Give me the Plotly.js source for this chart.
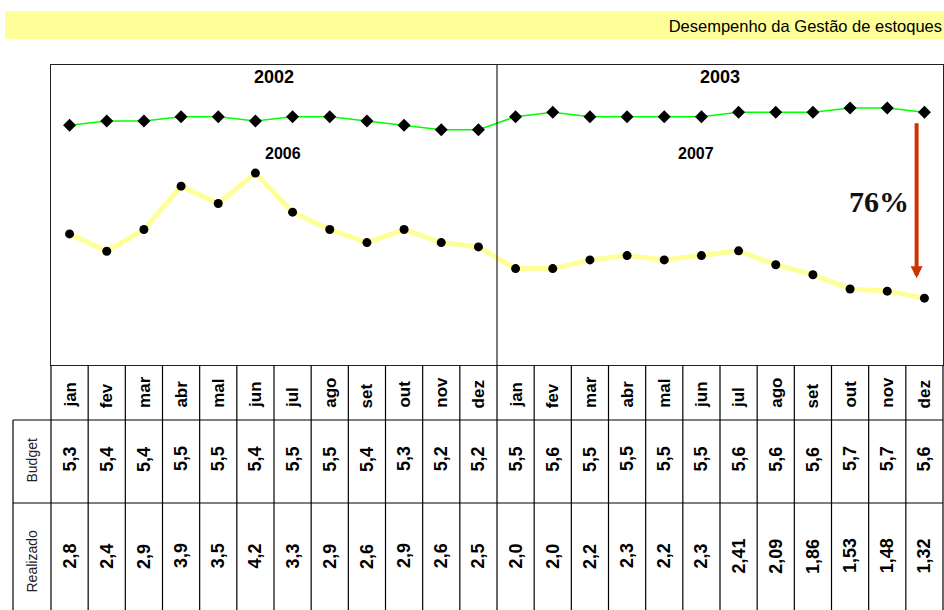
<!DOCTYPE html>
<html>
<head>
<meta charset="utf-8">
<script src="https://cdn.plot.ly/plotly-3.0.1.min.js"></script>
<style>html,body{margin:0;padding:0;background:#fff;}#chart{width:944px;height:610px;}</style>
</head>
<body>
<div id="chart"></div>
<script>
// ---- data ----
const monthNames = ['jan','fev','mar','abr','mal','jun','jul','ago','set','out','nov','dez'];
const months = monthNames.concat(monthNames);
const budget = [5.3,5.4,5.4,5.5,5.5,5.4,5.5,5.5,5.4,5.3,5.2,5.2, 5.5,5.6,5.5,5.5,5.5,5.5,5.6,5.6,5.6,5.7,5.7,5.6];
const realizado = [2.8,2.4,2.9,3.9,3.5,4.2,3.3,2.9,2.6,2.9,2.6,2.5, 2.0,2.0,2.2,2.3,2.2,2.3,2.41,2.09,1.86,1.53,1.48,1.32];
const years = ['2002','2003'];
const innerYears = ['2006','2007'];
const rowLabels = ['Budget','Realizado'];
const reductionLabel = '76%';
const headerTitle = 'Desempenho da Gestão de estoques';

// ---- helpers ----
const idx = months.map((m,i)=>i);
const fmt = v => (Number.isInteger(Math.round(v*100)/10) ? v.toFixed(1) : v.toFixed(2)).replace('.', ',');
const FONT = 'Liberation Sans, Arial, sans-serif';

const W = 944, H = 610, L = 51, R = 1, T = 65, B = 245;
const PW = W - L - R, PH = H - T - B;
const px = x => (x - L) / PW;        // pixel -> paper x
const py = y => (H - B - y) / PH;    // pixel -> paper y

const traces = [
  {x: idx, y: realizado, type:'scatter', mode:'lines+markers',
   line:{color:'#ffff99', width:5}, marker:{color:'#000', size:9, symbol:'circle'},
   hoverinfo:'skip', showlegend:false},
  {x: idx, y: budget, type:'scatter', mode:'lines+markers',
   line:{color:'#00ff00', width:1.5}, marker:{color:'#000', size:10, symbol:'diamond'},
   hoverinfo:'skip', showlegend:false}
];

const shapes = [];
// header band
shapes.push({type:'rect', xref:'paper', yref:'paper', x0:px(5), x1:px(944), y0:py(39), y1:py(11),
  fillcolor:'#ffff99', line:{width:0}, layer:'below'});
// divider between years inside plot
shapes.push({type:'line', xref:'paper', yref:'paper', x0:0.5, x1:0.5, y0:0, y1:1, line:{color:'#222', width:1.2}});
// table vertical lines
const n = months.length;
for (let k = 0; k <= n; k++) {
  shapes.push({type:'line', xref:'paper', yref:'paper', x0:k/n, x1:k/n, y0:0, y1:py(620),
    line:{color:'#000', width:1.2}});
}
// table horizontal lines
[420, 503].forEach(yy => shapes.push({type:'line', xref:'paper', yref:'paper', x0:px(13), x1:1, y0:py(yy), y1:py(yy),
  line:{color:'#000', width:1.2}}));
// label column left line
shapes.push({type:'line', xref:'paper', yref:'paper', x0:px(13), x1:px(13), y0:py(420), y1:py(620),
  line:{color:'#000', width:1.2}});

const C = {xanchor:'center', yanchor:'middle', showarrow:false};
const ann = [];
// year headers
years.forEach((y,i) => ann.push(Object.assign({xref:'paper', yref:'paper', x:0.25 + 0.5*i, y:py(77), text:y,
  font:{family:FONT, size:18, color:'#000', weight:'bold'}}, C)));
// inner year labels
ann.push(Object.assign({xref:'x', yref:'paper', x:5.74, y:py(153), text:innerYears[0],
  font:{family:FONT, size:16, color:'#000', weight:'bold'}}, C));
ann.push(Object.assign({xref:'x', yref:'paper', x:16.85, y:py(153), text:innerYears[1],
  font:{family:FONT, size:16, color:'#000', weight:'bold'}}, C));
// arrow
ann.push({xref:'x', yref:'y', x:22.79, y:1.78, axref:'x', ayref:'y', ax:22.79, ay:5.38, text:'',
  showarrow:true, arrowhead:2, arrowsize:0.6, arrowwidth:4, arrowcolor:'#cc3300', standoff:0});
ann.push(Object.assign({xref:'x', yref:'paper', x:21.78, y:py(201), text:reductionLabel,
  font:{family:'Liberation Serif, Times New Roman, serif', size:30, color:'#111', weight:'bold'}}, C));
// month labels and values
months.forEach((m,i) => {
  ann.push({xref:'x', yref:'paper', x:i, y:py(410), xanchor:'center', yanchor:'bottom', text:m, textangle:-90, showarrow:false,
    font:{family:FONT, size:17, color:'#000', weight:'bold'}});
  ann.push(Object.assign({xref:'x', yref:'paper', x:i, y:py(459), text:fmt(budget[i]), textangle:-90,
    font:{family:FONT, size:18, color:'#000', weight:'bold'}}, C));
  ann.push(Object.assign({xref:'x', yref:'paper', x:i, y:py(556), text:fmt(realizado[i]), textangle:-90,
    font:{family:FONT, size:18, color:'#000', weight:'bold'}}, C));
});
// row labels
ann.push(Object.assign({xref:'paper', yref:'paper', x:px(31.5), y:py(461), text:rowLabels[0], textangle:-90,
  font:{family:FONT, size:14, color:'#222'}}, C));
ann.push(Object.assign({xref:'paper', yref:'paper', x:px(31.5), y:py(562), text:rowLabels[1], textangle:-90,
  font:{family:FONT, size:14, color:'#222'}}, C));

const layout = {
  width:W, height:H,
  margin:{l:L, r:R, t:T, b:B, pad:0},
  paper_bgcolor:'#fff', plot_bgcolor:'#fff',
  title:{text:headerTitle, xref:'container', yref:'container', x:942/W, xanchor:'right', y:1-26/H, yanchor:'middle',
    font:{family:FONT, size:16.5, color:'#000'}},
  xaxis:{range:[-0.5, 23.5], showgrid:false, zeroline:false, showticklabels:false, ticks:'',
    showline:true, mirror:true, linecolor:'#222', linewidth:1.2, fixedrange:true},
  yaxis:{range:[-0.22, 6.69], showgrid:false, zeroline:false, showticklabels:false, ticks:'',
    showline:true, mirror:true, linecolor:'#222', linewidth:1.2, fixedrange:true},
  shapes:shapes, annotations:ann, showlegend:false
};

Plotly.newPlot('chart', traces, layout, {displayModeBar:false, staticPlot:true});
</script>
</body>
</html>
